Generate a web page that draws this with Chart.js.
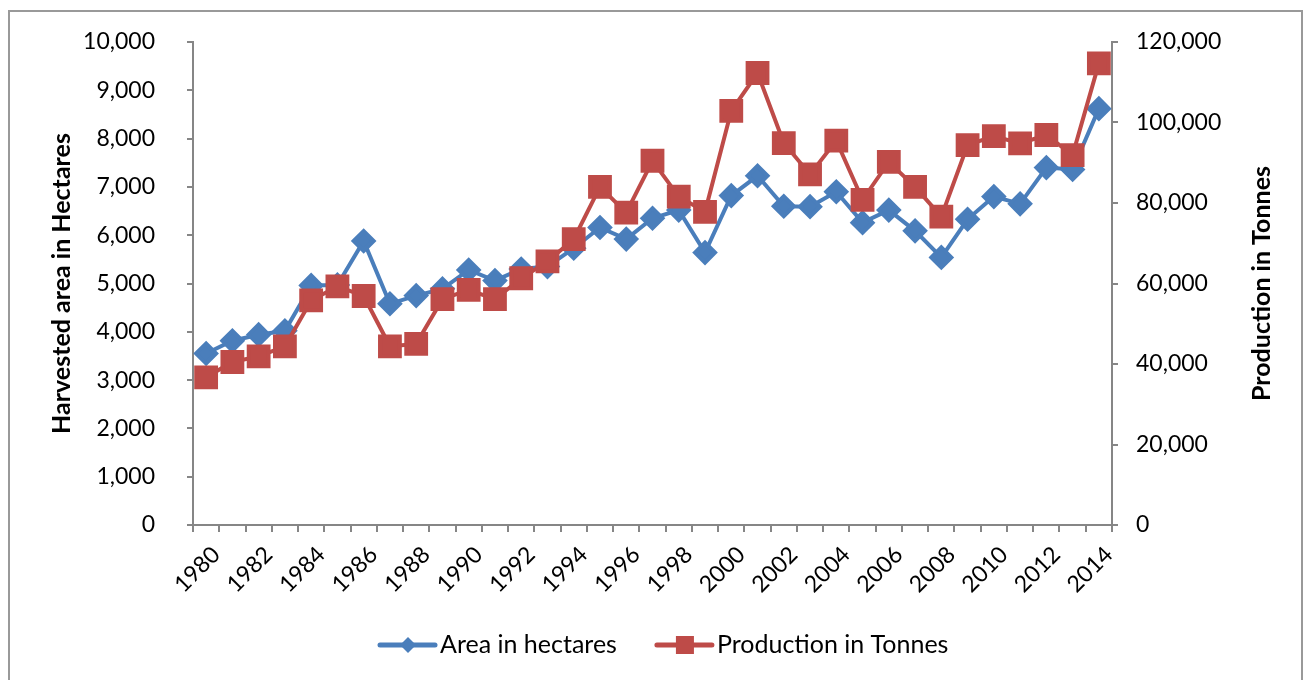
<!DOCTYPE html>
<html lang="en">
<head>
  <meta charset="UTF-8">
  <title>Harvested area and production 1980-2014</title>
  <script src="https://cdn.jsdelivr.net/npm/chart.js"></script>
  <style>
    body { margin: 0; background: #fff; }
    .frame { position: absolute; left: 8px; top: 10px; width: 1291px; height: 700px; border: 2px solid #999; border-bottom: none; }
    #wrap { position: absolute; left: 0; top: 0; width: 1309px; height: 680px; }
  </style>
</head>
<body>
  <div class="frame"></div>
  <div id="wrap"><canvas id="cropChart"></canvas></div>

  <script>
    const years = [];
    for (let y = 1980; y <= 2014; y++) years.push(String(y));

    // harvested area, hectares (left axis)
    const area = [3550, 3815, 3940, 4020, 4960, 4970, 5880, 4580, 4750, 4890,
                  5280, 5060, 5300, 5350, 5730, 6160, 5920, 6350, 6520, 5640,
                  6820, 7230, 6600, 6590, 6900, 6260, 6520, 6090, 5540, 6330,
                  6800, 6650, 7400, 7360, 8620];
    // production, tonnes (right axis)
    const production = [36700, 40500, 41900, 44400, 55800, 59300, 56900, 44400, 45000, 56100,
                        58400, 56100, 61300, 65500, 71000, 84000, 77600, 90500, 81600, 77800,
                        102900, 112300, 94900, 87100, 95500, 80800, 90200, 84000, 76600, 94400,
                        96600, 94800, 96900, 91900, 114700];

    const blue = '#4A7EBB';
    const red = '#BE4B48';
    const axisGrey = '#868686';
    const tickFont = { family: 'Lato', size: 23 };

    // legend drawn as line + marker like the spreadsheet original
    const legendPlugin = {
      id: 'lineLegend',
      afterDraw(chart) {
        const ctx = chart.ctx;
        const y = 645;
        let x = chart.chartArea.left + 187;
        ctx.save();
        ctx.font = '25px Lato';
        ctx.textBaseline = 'middle';
        ctx.fillStyle = '#000';
        const items = [
          { text: 'Area in hectares', color: blue, shape: 'diamond' },
          { text: 'Production in Tonnes', color: red, shape: 'square' }
        ];
        items.forEach(item => {
          ctx.strokeStyle = item.color;
          ctx.lineWidth = 5;
          ctx.lineCap = 'round';
          ctx.beginPath();
          ctx.moveTo(x, y);
          ctx.lineTo(x + 55, y);
          ctx.stroke();
          const cx = x + 28;
          ctx.fillStyle = item.color;
          if (item.shape === 'diamond') {
            ctx.beginPath();
            ctx.moveTo(cx, y - 8);
            ctx.lineTo(cx + 8, y);
            ctx.lineTo(cx, y + 8);
            ctx.lineTo(cx - 8, y);
            ctx.closePath();
            ctx.fill();
          } else {
            ctx.fillRect(cx - 9, y - 9, 18, 18);
          }
          ctx.fillStyle = '#000';
          ctx.fillText(item.text, x + 60, y);
          x += 60 + ctx.measureText(item.text).width + 40;
        });

        // right axis title reads bottom to top
        const area = chart.chartArea;
        ctx.translate(1262, (area.top + area.bottom) / 2);
        ctx.rotate(-Math.PI / 2);
        ctx.font = 'bold 25px Lato';
        ctx.textAlign = 'center';
        ctx.fillText('Production in Tonnes', 0, 0);
        ctx.restore();
      }
    };

    new Chart(document.getElementById('cropChart'), {
      type: 'line',
      data: {
        labels: years,
        datasets: [{
          label: 'Area in hectares',
          data: area,
          yAxisID: 'yArea',
          borderColor: blue,
          backgroundColor: blue,
          borderWidth: 4,
          pointStyle: 'rectRot',
          pointRadius: 10,
          pointHoverRadius: 10,
          tension: 0,
          order: 1
        }, {
          label: 'Production in Tonnes',
          data: production,
          yAxisID: 'yProd',
          borderColor: red,
          backgroundColor: red,
          borderWidth: 4,
          pointStyle: 'rect',
          pointRadius: 14,
          pointHoverRadius: 14,
          tension: 0,
          order: 0
        }]
      },
      options: {
        responsive: true,
        maintainAspectRatio: false,
        animation: false,
        layout: { padding: { top: 42, left: 0, right: 0, bottom: 0 } },
        plugins: {
          legend: { display: false },
          tooltip: { enabled: false }
        },
        scales: {
          x: {
            offset: true,
            grid: { offset: true, drawOnChartArea: false, color: axisGrey, tickLength: 7, lineWidth: 2 },
            border: { color: axisGrey, width: 2 },
            ticks: {
              autoSkip: false,
              maxRotation: 45,
              minRotation: 45,
              color: '#000',
              font: tickFont,
              padding: 9,
              labelOffset: 10,
              callback: function (val, i) { return i % 2 === 0 ? this.getLabelForValue(val) : ''; }
            },
            afterFit(scale) { scale.height = 155; }
          },
          yArea: {
            position: 'left',
            min: 0,
            max: 10000,
            grid: { drawOnChartArea: false, color: axisGrey, tickLength: 6, lineWidth: 2 },
            border: { color: axisGrey, width: 2 },
            ticks: {
              stepSize: 1000,
              color: '#000',
              font: tickFont,
              padding: 32,
              callback: v => v.toLocaleString('en-US')
            },
            title: {
              display: true,
              text: 'Harvested area in Hectares',
              color: '#000',
              font: { family: 'Lato', size: 25, weight: 'bold' },
              padding: { top: 47, bottom: 0 }
            },
            afterFit(scale) { scale.width = 193; scale.paddingTop = 0; scale.paddingBottom = 0; }
          },
          yProd: {
            position: 'right',
            min: 0,
            max: 120000,
            grid: { drawOnChartArea: false, color: axisGrey, tickLength: 6, lineWidth: 2 },
            border: { color: axisGrey, width: 2 },
            ticks: {
              stepSize: 20000,
              color: '#000',
              font: tickFont,
              padding: 18,
              callback: v => v.toLocaleString('en-US')
            },
            afterFit(scale) { scale.width = 197; scale.paddingTop = 0; scale.paddingBottom = 0; }
          }
        }
      },
      plugins: [legendPlugin]
    });
  </script>
</body>
</html>
